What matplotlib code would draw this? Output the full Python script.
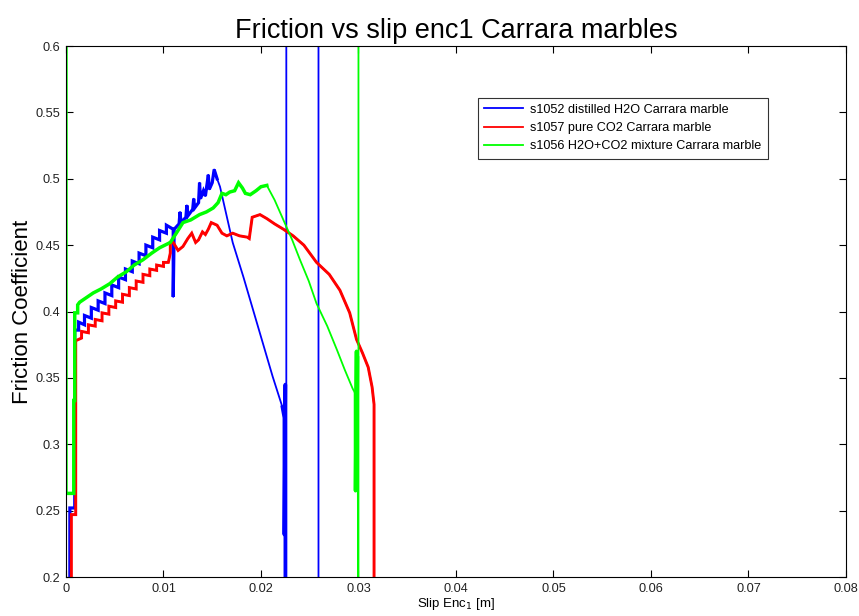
import matplotlib
matplotlib.use("Agg")
import matplotlib.pyplot as plt
import numpy as np

plt.rcParams['font.family'] = ['Liberation Sans', 'DejaVu Sans']

# s1052 distilled H2O
blue_x = [0.0004, 0.0004, 0.0009, 0.0009, 0.0013, 0.0013, 0.0019, 0.0019, 0.0026, 0.0026,
          0.0033, 0.0033, 0.0040, 0.0040, 0.0047, 0.0047, 0.0054, 0.0054, 0.0061, 0.0061,
          0.0068, 0.0068, 0.0075, 0.0075, 0.0082, 0.0082, 0.0089, 0.0089, 0.0096, 0.0096,
          0.0103, 0.0103, 0.0110, 0.0110, 0.0111, 0.0116, 0.0117, 0.0118, 0.0123, 0.0124,
          0.0125, 0.0130, 0.0131, 0.0132, 0.0136, 0.0137, 0.0138, 0.0141, 0.0143, 0.0146,
          0.0147, 0.0150, 0.0152, 0.0155, 0.0158, 0.0171, 0.0182, 0.0192, 0.0202, 0.0212,
          0.0222, 0.0224, 0.0224, 0.0225, 0.0225, 0.0226, 0.0226, 0.0259, 0.0259]
blue_y = [0.150, 0.252, 0.252, 0.386, 0.386, 0.392, 0.390, 0.397, 0.395, 0.403,
          0.401, 0.408, 0.406, 0.414, 0.412, 0.420, 0.418, 0.426, 0.424, 0.432,
          0.430, 0.438, 0.436, 0.444, 0.442, 0.450, 0.448, 0.456, 0.454, 0.461,
          0.459, 0.465, 0.462, 0.411, 0.462, 0.466, 0.475, 0.467, 0.471, 0.480,
          0.472, 0.477, 0.485, 0.478, 0.482, 0.497, 0.485, 0.491, 0.487, 0.503,
          0.492, 0.497, 0.507, 0.500, 0.494, 0.452, 0.426, 0.401, 0.376, 0.351,
          0.328, 0.320, 0.232, 0.345, 0.150, 0.150, 0.800, 0.800, 0.100]

# s1057 pure CO2
red_x = [0.00055, 0.00055, 0.0010, 0.0010, 0.0016, 0.0016, 0.0023, 0.0023, 0.0030, 0.0030,
         0.0037, 0.0037, 0.0044, 0.0044, 0.0051, 0.0051, 0.0058, 0.0058, 0.0065, 0.0065,
         0.0072, 0.0072, 0.0079, 0.0079, 0.0086, 0.0086, 0.0093, 0.0093, 0.0100, 0.0100,
         0.0105, 0.0107, 0.0107, 0.0110, 0.0115, 0.0120, 0.0125, 0.0129, 0.0133, 0.0136,
         0.0140, 0.0143, 0.0146, 0.0149, 0.0155, 0.0160, 0.0165, 0.0171, 0.0178, 0.0186,
         0.0188, 0.0191, 0.0199, 0.0206, 0.0214, 0.0223, 0.0233, 0.0244, 0.0257, 0.0270,
         0.0281, 0.0291, 0.0298, 0.0304, 0.0310, 0.0314, 0.0316, 0.0316]
red_y = [0.150, 0.247, 0.247, 0.378, 0.380, 0.385, 0.384, 0.390, 0.389, 0.394,
         0.393, 0.399, 0.398, 0.404, 0.403, 0.408, 0.407, 0.413, 0.412, 0.418,
         0.417, 0.423, 0.422, 0.428, 0.427, 0.432, 0.431, 0.435, 0.434, 0.437,
         0.437, 0.444, 0.452, 0.452, 0.446, 0.449, 0.455, 0.459, 0.452, 0.454,
         0.460, 0.458, 0.462, 0.467, 0.465, 0.459, 0.457, 0.459, 0.457, 0.456,
         0.455, 0.471, 0.473, 0.470, 0.466, 0.462, 0.457, 0.450, 0.437, 0.428,
         0.416, 0.399, 0.379, 0.369, 0.358, 0.343, 0.330, 0.100]

# s1056 H2O+CO2 mixture
green_x = [0.0000, 0.0000, 0.0008, 0.0008, 0.0009, 0.0009, 0.0012, 0.0012, 0.0014, 0.0020,
           0.0028, 0.0036, 0.0045, 0.0053, 0.0062, 0.0070, 0.0079, 0.0088, 0.0096, 0.0107,
           0.0114, 0.0120, 0.0128, 0.0137, 0.0144, 0.0151, 0.0156, 0.0160, 0.0164, 0.0168,
           0.0173, 0.0177, 0.0181, 0.0184, 0.0189, 0.0195, 0.0200, 0.0206, 0.0214, 0.0223,
           0.0232, 0.0240, 0.0249, 0.0257, 0.0268, 0.0278, 0.0286, 0.0294, 0.0297, 0.0297,
           0.0298, 0.0298, 0.0299, 0.0300, 0.0300]
green_y = [0.800, 0.263, 0.263, 0.333, 0.333, 0.399, 0.399, 0.405, 0.407, 0.410,
           0.414, 0.417, 0.421, 0.426, 0.430, 0.435, 0.439, 0.444, 0.448, 0.452,
           0.460, 0.467, 0.469, 0.473, 0.475, 0.478, 0.482, 0.489, 0.488, 0.490,
           0.491, 0.497, 0.493, 0.489, 0.488, 0.491, 0.494, 0.495, 0.484, 0.469,
           0.454, 0.439, 0.423, 0.406, 0.389, 0.371, 0.356, 0.342, 0.338, 0.265,
           0.370, 0.268, 0.365, 0.100, 0.800]

# slip where each curve's noisy (thick-looking) section ends, and its drawn width
blue_noisy_to = 0.0155
red_noisy_to = 0.0316
green_noisy_to = 0.0206

fig = plt.figure(figsize=(8.59, 6.16), dpi=100)
ax = fig.add_axes([0.0768, 0.0633, 0.908, 0.862])

series = [
    (blue_x, blue_y, blue_noisy_to, 2.3, '#0000ff', 's1052 distilled H2O Carrara marble'),
    (red_x, red_y, red_noisy_to, 2.1, '#ff0000', 's1057 pure CO2 Carrara marble'),
    (green_x, green_y, green_noisy_to, 2.5, '#00ff00', 's1056 H2O+CO2 mixture Carrara marble'),
]
for xs, ys, xend, lw, col, lab in series:
    ax.plot(xs, ys, color=col, lw=1.3, label=lab)
    n = int(np.sum(np.asarray(xs) <= xend))
    ax.plot(xs[:n], ys[:n], color=col, lw=lw, solid_joinstyle='miter')

# thick vertical jumps where the runs end
ax.plot(blue_x[60:65], blue_y[60:65], color='#0000ff', lw=2.6)
ax.plot(green_x[48:53], green_y[48:53], color='#00ff00', lw=2.6)

ax.set_xlim(0, 0.08)
ax.set_ylim(0.2, 0.6)
ax.set_xticks(np.arange(0, 0.081, 0.01))
ax.set_yticks(np.arange(0.2, 0.601, 0.05))
ax.set_xticklabels(['0', '0.01', '0.02', '0.03', '0.04', '0.05', '0.06', '0.07', '0.08'])
ax.set_yticklabels(['0.2', '0.25', '0.3', '0.35', '0.4', '0.45', '0.5', '0.55', '0.6'])
ax.tick_params(direction='in', top=True, right=True, length=5, width=0.8,
               labelsize=9.2, labelcolor='#222222', pad=4)
for s in ax.spines.values():
    s.set_linewidth(0.8)

ax.set_title('Friction vs slip enc1 Carrara marbles', fontsize=19.5, pad=6)
ax.set_ylabel('Friction Coefficient', fontsize=16, labelpad=2)
ax.set_xlabel('Slip Enc$_1$ [m]', fontsize=9.5, labelpad=1)

leg = ax.legend(loc='upper left', bbox_to_anchor=(0.528, 0.903), fontsize=9.1,
                frameon=True, fancybox=False, edgecolor='black', handlelength=3.1,
                borderpad=0.5, labelspacing=0.5, handletextpad=0.55, borderaxespad=0)
leg.get_frame().set_linewidth(0.8)

fig.savefig('out.png', dpi=100)
